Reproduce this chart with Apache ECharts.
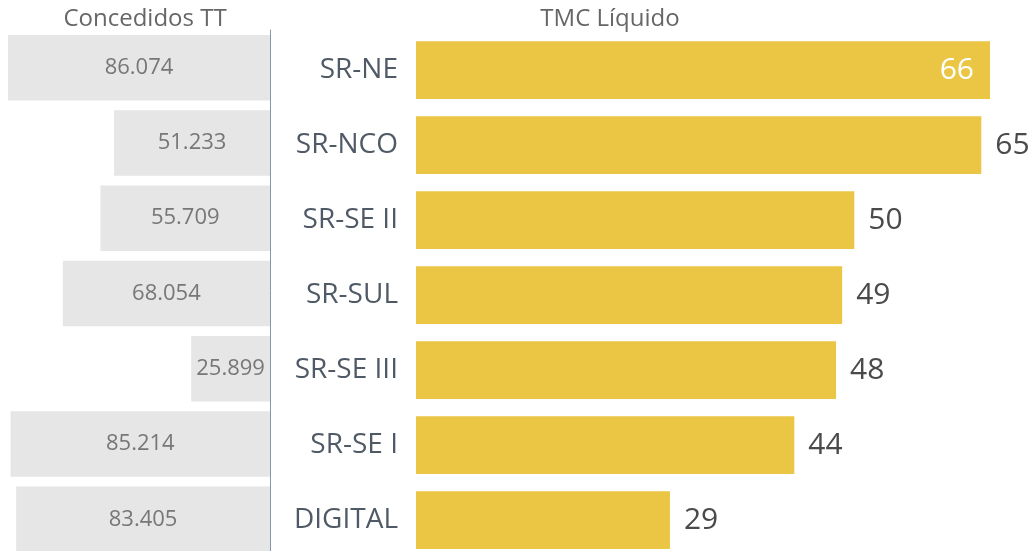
<!DOCTYPE html>
<html><head><meta charset="utf-8">
<script src="https://cdn.jsdelivr.net/npm/echarts@6/dist/echarts.min.js"></script>
<style>html,body{margin:0;padding:0;background:#fff}#c{width:1035px;height:551px}</style>
</head><body><div id="c"></div>
<script>
const categories = ['SR-NE','SR-NCO','SR-SE II','SR-SUL','SR-SE III','SR-SE I','DIGITAL'];
const concedidosTT = [86074, 51233, 55709, 68054, 25899, 85214, 83405];
const tmcLiquido = [66, 65, 50.4, 49, 48.3, 43.5, 29.2];
const titles = ['Concedidos TT', 'TMC Líquido'];

const font = '"Open Sans", "Noto Sans", sans-serif';
const chart = echarts.init(document.getElementById('c'));
const fmtThousands = v => {
  const s = String(Math.round(v));
  return s.replace(/\B(?=(\d{3})+(?!\d))/g, '.');
};
chart.setOption({
  animation: false,
  title: [
    {text: titles[0], left: 140, top: 2, textAlign: 'center',
     textStyle: {fontFamily: font, fontSize: 24, fontWeight: 'normal', color: '#666'}},
    {text: titles[1], left: 605, top: 2, textAlign: 'center',
     textStyle: {fontFamily: font, fontSize: 24, fontWeight: 'normal', color: '#666'}}
  ],
  grid: [
    {left: 8, width: 262, top: 30, height: 527, outerBoundsMode: 'none', containLabel: false},
    {left: 416, width: 574, top: 32.5, height: 525, outerBoundsMode: 'none', containLabel: false}
  ],
  xAxis: [
    {gridIndex: 0, type: 'value', min: 0, max: 86074, inverse: true, show: false},
    {gridIndex: 1, type: 'value', min: 0, max: 66, show: false}
  ],
  yAxis: [
    {gridIndex: 0, type: 'category', data: categories, inverse: true, position: 'right',
     axisLine: {show: true, lineStyle: {color: '#8796aa', width: 1}},
     axisTick: {show: false}, axisLabel: {show: false}, splitLine: {show: false}},
    {gridIndex: 1, type: 'category', data: categories, inverse: true,
     axisLine: {show: false}, axisTick: {show: false}, splitLine: {show: false},
     axisLabel: {margin: 18, fontFamily: font, fontSize: 28, color: '#505a66'}}
  ],
  series: [
    {type: 'bar', xAxisIndex: 0, yAxisIndex: 0, data: concedidosTT, barCategoryGap: '13%',
     itemStyle: {color: '#e6e6e6'},
     label: {show: true, position: 'inside', fontFamily: font, fontSize: 22, color: '#777',
             formatter: p => fmtThousands(p.value)}},
    {type: 'bar', xAxisIndex: 1, yAxisIndex: 1, barCategoryGap: '23%',
     data: tmcLiquido.map((v, i) => i === 0
       ? {value: v, label: {position: 'insideRight', color: '#fff', distance: 16}}
       : {value: v}),
     itemStyle: {color: '#ebc645'},
     label: {show: true, position: 'right', distance: 14, fontFamily: font, fontSize: 30, color: '#4a4a4a',
             formatter: p => String(Math.round(p.value))}}
  ]
});
</script></body></html>
